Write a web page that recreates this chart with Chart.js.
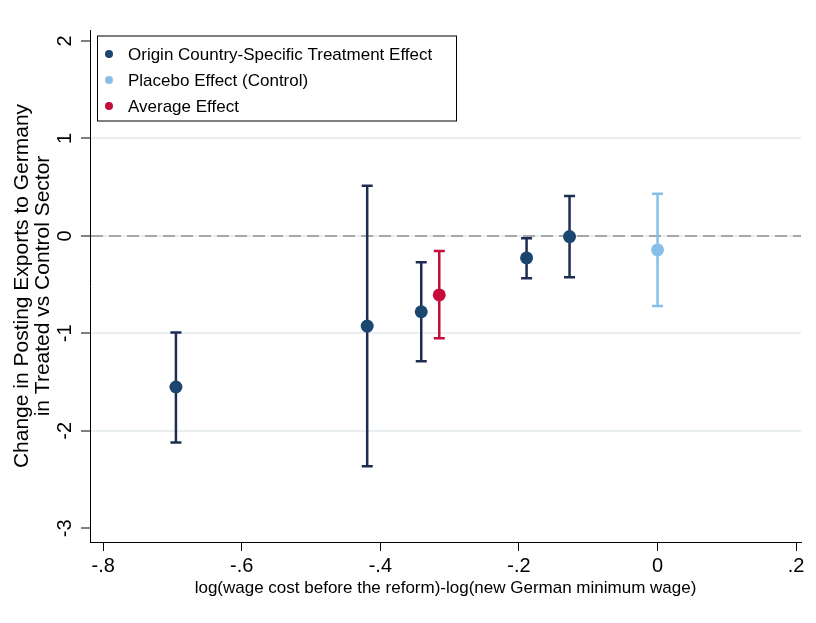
<!DOCTYPE html>
<html>
<head>
<meta charset="utf-8">
<script src="https://cdn.jsdelivr.net/npm/chart.js@4.4.1/dist/chart.umd.min.js"></script>
<style>
html, body { margin: 0; padding: 0; background: #fff; }
#grafico { width: 816px; height: 623px; }
</style>
</head>
<body>
<div id="grafico"><canvas></canvas></div>
<script>
// valores
const origemX = [-0.695, -0.419, -0.341, -0.189, -0.127];
const origemEfeito = [-1.55, -0.925, -0.778, -0.226, -0.007];
const origemInf = [-2.12, -2.364, -1.285, -0.435, -0.425];
const origemSup = [-0.99, 0.514, -0.27, -0.024, 0.408];

const placeboX = [0];
const placeboEfeito = [-0.144];
const placeboInf = [-0.72];
const placeboSup = [0.432];

const mediaX = [-0.315];
const mediaEfeito = [-0.606];
const mediaInf = [-1.05];
const mediaSup = [-0.154];

const nomesSeries = ['Origin Country-Specific Treatment Effect', 'Placebo Effect (Control)', 'Average Effect'];
const xTicks = [-0.8, -0.6, -0.4, -0.2, 0, 0.2];
const xTickLabels = ['-.8', '-.6', '-.4', '-.2', '0', '.2'];
const yTicks = [-3, -2, -1, 0, 1, 2];
const yTickLabels = ['-3', '-2', '-1', '0', '1', '2'];
const tituloY = ['Change in Posting Exports to Germany', 'in Treated vs Control Sector'];
const tituloX = 'log(wage cost before the reform)-log(new German minimum wage)';

const fonte = '"Liberation Sans", Arial, Helvetica, sans-serif';
const canvas = document.querySelector('#grafico canvas');

function pontos(xs, ys) {
    return xs.map((x, i) => ({ x: x, y: ys[i] }));
}

const series = [
    { label: nomesSeries[0], data: pontos(origemX, origemEfeito), inf: origemInf, sup: origemSup,
      cor: '#1a4670', corBarra: '#1e2c50' },
    { label: nomesSeries[1], data: pontos(placeboX, placeboEfeito), inf: placeboInf, sup: placeboSup,
      cor: '#86c0ea', corBarra: '#86c0ea' },
    { label: nomesSeries[2], data: pontos(mediaX, mediaEfeito), inf: mediaInf, sup: mediaSup,
      cor: '#c60d3a', corBarra: '#c60d3a' }
];

// linha tracejada no zero + intervalos de confianca
const barrasErro = {
    id: 'barrasErro',
    beforeDatasetsDraw(chart) {
        const { ctx, chartArea, scales } = chart;
        const y0 = scales.y.getPixelForValue(0);
        ctx.save();
        ctx.strokeStyle = '#a8a8a8';
        ctx.lineWidth = 2;
        ctx.setLineDash([12, 6]);
        ctx.beginPath();
        ctx.moveTo(chartArea.left + 1, y0);
        ctx.lineTo(chartArea.right, y0);
        ctx.stroke();
        ctx.setLineDash([]);

        chart.data.datasets.forEach(ds => {
            ctx.strokeStyle = ds.corBarra;
            ctx.lineWidth = 2.5;
            ds.data.forEach((p, i) => {
                const px = scales.x.getPixelForValue(p.x);
                const pInf = scales.y.getPixelForValue(ds.inf[i]);
                const pSup = scales.y.getPixelForValue(ds.sup[i]);
                ctx.beginPath();
                ctx.moveTo(px, pInf);
                ctx.lineTo(px, pSup);
                ctx.moveTo(px - 5.5, pInf);
                ctx.lineTo(px + 5.5, pInf);
                ctx.moveTo(px - 5.5, pSup);
                ctx.lineTo(px + 5.5, pSup);
                ctx.stroke();
            });
        });
        ctx.restore();
    }
};

// legenda com moldura dentro da area do grafico
const legendaCaixa = {
    id: 'legendaCaixa',
    afterDatasetsDraw(chart) {
        const { ctx, chartArea } = chart;
        const x = chartArea.left + 7;
        const y = chartArea.top + 5.5;
        ctx.save();
        ctx.fillStyle = '#fff';
        ctx.fillRect(x, y, 360, 85);
        ctx.strokeStyle = '#000';
        ctx.lineWidth = 1;
        ctx.strokeRect(x + 0.5, y + 0.5, 359, 85);
        ctx.font = '17px ' + fonte;
        ctx.textBaseline = 'middle';
        chart.data.datasets.forEach((ds, i) => {
            const ly = y + 18.5 + i * 26;
            ctx.fillStyle = ds.cor;
            ctx.beginPath();
            ctx.arc(x + 12, ly, 4, 0, Math.PI * 2);
            ctx.fill();
            ctx.fillStyle = '#000';
            ctx.fillText(ds.label, x + 31, ly + 1);
        });
        ctx.restore();
    }
};

new Chart(canvas, {
    type: 'scatter',
    data: {
        datasets: series.map(s => ({
            label: s.label,
            data: s.data,
            inf: s.inf,
            sup: s.sup,
            cor: s.cor,
            corBarra: s.corBarra,
            pointRadius: 6.5,
            pointBackgroundColor: s.cor,
            pointBorderWidth: 0,
            showLine: false
        }))
    },
    options: {
        responsive: true,
        maintainAspectRatio: false,
        animation: false,
        layout: { padding: { top: 30, right: 15, left: 0, bottom: 0 } },
        plugins: {
            legend: { display: false },
            tooltip: { enabled: false }
        },
        scales: {
            x: {
                type: 'linear',
                min: -0.819,
                max: 0.207,
                afterBuildTicks: s => { s.ticks = xTicks.map(v => ({ value: v })); },
                afterFit: s => { s.height = 81; },
                grid: { drawOnChartArea: false, drawTicks: true, tickLength: 9, tickColor: '#000', tickWidth: 1 },
                border: { color: '#000', width: 1 },
                ticks: {
                    callback: (v, i) => xTickLabels[i],
                    font: { size: 20, family: fonte },
                    color: '#000',
                    padding: 3,
                    autoSkip: false,
                    maxRotation: 0,
                    minRotation: 0
                },
                title: {
                    display: true,
                    text: tituloX,
                    color: '#000',
                    font: { size: 17, family: fonte },
                    padding: { top: 0, bottom: 24 }
                }
            },
            y: {
                type: 'linear',
                min: -3.14,
                max: 2.112,
                afterBuildTicks: s => { s.ticks = yTicks.map(v => ({ value: v })); },
                afterFit: s => { s.width = 90; },
                grid: {
                    color: c => (c.tick && (c.tick.value === 2 || c.tick.value === -3)) ? 'rgba(0,0,0,0)' : '#e9eef1',
                    lineWidth: 2,
                    tickLength: 9,
                    tickColor: '#000',
                    tickWidth: 1
                },
                border: { color: '#000', width: 1 },
                ticks: {
                    callback: (v, i) => yTickLabels[i],
                    font: { size: 20, family: fonte },
                    color: '#000',
                    padding: 7,
                    crossAlign: 'center',
                    autoSkip: false,
                    minRotation: 90,
                    maxRotation: 90
                },
                title: {
                    display: true,
                    text: tituloY,
                    color: '#000',
                    font: { size: 21, family: fonte, lineHeight: 1.0 },
                    padding: { top: 12 }
                }
            }
        }
    },
    plugins: [barrasErro, legendaCaixa]
});
</script>
</body>
</html>
